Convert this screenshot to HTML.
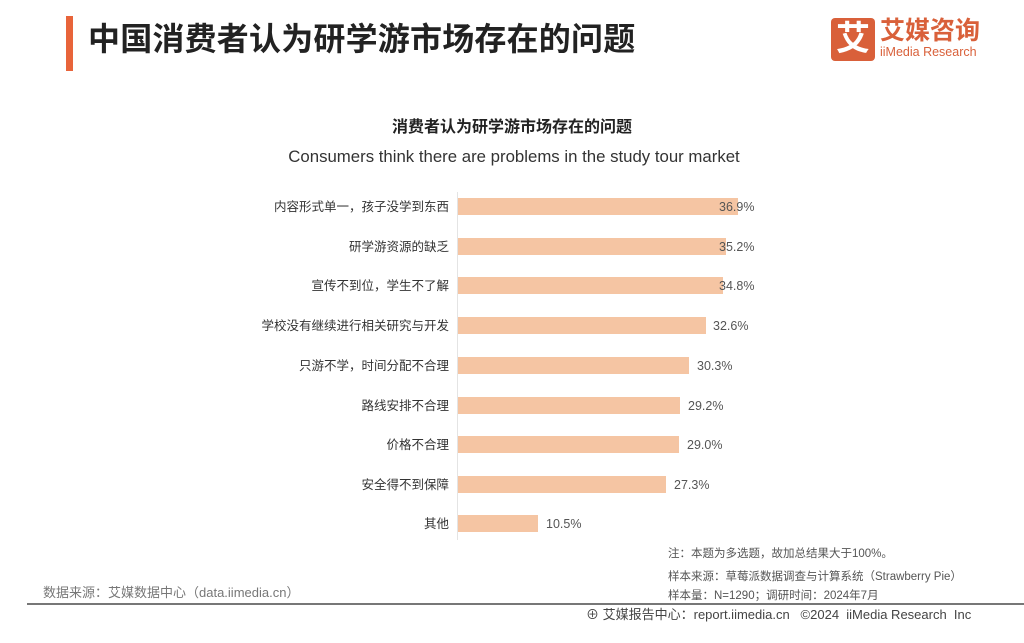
<!DOCTYPE html>
<html><head><meta charset="utf-8"><style>
body{margin:0;width:1024px;height:643px;background:#fff;position:relative;overflow:hidden;font-family:"Liberation Sans","Noto Sans CJK SC",sans-serif;}
.a{position:absolute;white-space:nowrap;}
.lab{position:absolute;right:575px;font-size:12.5px;color:#333;line-height:16px;}
.bar{position:absolute;left:458px;height:17px;background:#f5c5a3;}
.val{position:absolute;font-size:12.5px;color:#555;line-height:16px;}
</style></head><body>
<div class="a" style="left:66px;top:16px;width:7px;height:55px;background:#e8643a"></div>
<div class="a" style="left:88px;top:17px;font-size:32px;font-weight:bold;color:#222;line-height:44px;letter-spacing:0.2px">中国消费者认为研学游市场存在的问题</div>
<div class="a" style="left:831px;top:18px;width:44px;height:43px;background:#d9603a;border-radius:4px;color:#fff;font-size:34px;font-weight:bold;line-height:43px;text-align:center">艾</div>
<div class="a" style="left:880px;top:17px;font-size:25px;font-weight:bold;color:#d9603a;line-height:28px">艾媒咨询</div>
<div class="a" style="left:880px;top:45px;font-size:12.5px;color:#d9603a;line-height:15px">iiMedia Research</div>

<div class="a" style="left:0;width:1024px;text-align:center;top:118px;font-size:16px;font-weight:bold;color:#222;line-height:20px">消费者认为研学游市场存在的问题</div>
<div class="a" style="left:0;width:1028px;text-align:center;top:147px;font-size:16.8px;color:#333;line-height:20px">Consumers think there are problems in the study tour market</div>

<div class="a" style="left:457px;top:192px;width:1px;height:348px;background:#e4e4e4"></div>

<div class="bar" style="top:198px;width:280px"></div><div class="lab" style="top:199px">内容形式单一，孩子没学到东西</div><div class="val" style="left:719px;top:199px">36.9%</div>
<div class="bar" style="top:238px;width:268px"></div><div class="lab" style="top:239px">研学游资源的缺乏</div><div class="val" style="left:719px;top:239px">35.2%</div>
<div class="bar" style="top:277px;width:265px"></div><div class="lab" style="top:278px">宣传不到位，学生不了解</div><div class="val" style="left:719px;top:278px">34.8%</div>
<div class="bar" style="top:317px;width:248px"></div><div class="lab" style="top:318px">学校没有继续进行相关研究与开发</div><div class="val" style="left:713px;top:318px">32.6%</div>
<div class="bar" style="top:357px;width:231px"></div><div class="lab" style="top:358px">只游不学，时间分配不合理</div><div class="val" style="left:697px;top:358px">30.3%</div>
<div class="bar" style="top:397px;width:222px"></div><div class="lab" style="top:398px">路线安排不合理</div><div class="val" style="left:688px;top:398px">29.2%</div>
<div class="bar" style="top:436px;width:221px"></div><div class="lab" style="top:437px">价格不合理</div><div class="val" style="left:687px;top:437px">29.0%</div>
<div class="bar" style="top:476px;width:208px"></div><div class="lab" style="top:477px">安全得不到保障</div><div class="val" style="left:674px;top:477px">27.3%</div>
<div class="bar" style="top:515px;width:80px"></div><div class="lab" style="top:516px">其他</div><div class="val" style="left:546px;top:516px">10.5%</div>

<div class="a" style="left:668px;top:547px;font-size:11.5px;color:#555;line-height:14px">注：本题为多选题，故加总结果大于100%。</div>
<div class="a" style="left:668px;top:570px;font-size:11.5px;color:#555;line-height:14px">样本来源：草莓派数据调查与计算系统（Strawberry Pie）</div>
<div class="a" style="left:668px;top:589px;font-size:11.5px;color:#555;line-height:14px">样本量：N=1290；调研时间：2024年7月</div>
<div class="a" style="left:43px;top:585px;font-size:13px;color:#777;line-height:16px">数据来源：艾媒数据中心（data.iimedia.cn）</div>
<div class="a" style="left:27px;top:603px;width:997px;height:2px;background:#777"></div>
<div class="a" style="left:586px;top:607px;font-size:13px;color:#444;line-height:15px">⊕ 艾媒报告中心：report.iimedia.cn &nbsp;&nbsp;©2024 &nbsp;iiMedia Research &nbsp;Inc</div>
</body></html>
